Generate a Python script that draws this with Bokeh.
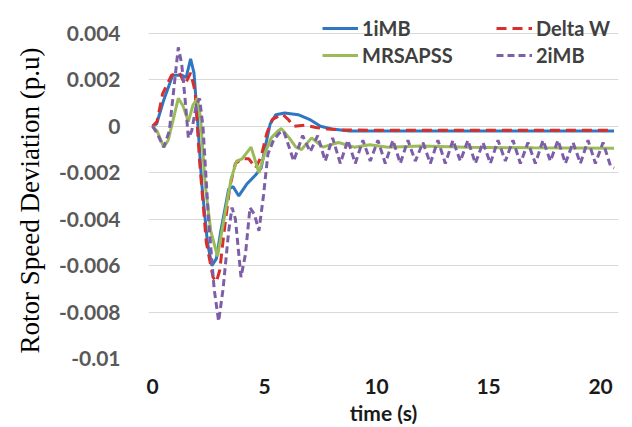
from bokeh.plotting import figure
from bokeh.models import Legend, LegendItem, FixedTicker, CustomJSTickFormatter, Range1d, Title
from bokeh.embed import file_html
from bokeh.resources import INLINE

# ---- data ----
t_1imb = [0, 0.18, 0.49, 0.9, 1.3, 1.5, 1.7, 1.85, 2.0, 2.2, 2.45, 2.65, 2.85, 3.05, 3.4, 3.6, 3.85, 4.2, 4.6, 4.85,
          5.05, 5.25, 5.5, 5.9, 6.5, 7.0, 7.5, 8.0, 8.8, 10, 15, 20.6]
v_1imb = [0, 0.0001, 0.0011, 0.0022, 0.0022, 0.0021, 0.0029, 0.0023, 0.0004, -0.0025, -0.0050, -0.0060, -0.0057,
          -0.0045, -0.0027, -0.0026, -0.0030, -0.0025, -0.0021, -0.0018, -0.0008, 0.0001, 0.0005, 0.00057, 0.0005,
          0.0003, 0.0, -0.00012, -0.0002, -0.0002, -0.0002, -0.0002]

t_deltaw = [0, 0.2, 0.45, 0.85, 1.2, 1.45, 1.7, 1.9, 2.1, 2.4, 2.7, 2.85, 3.0, 3.2, 3.45, 3.7, 4.0, 4.3, 4.6, 4.85,
            5.1, 5.35, 5.8, 6.05, 6.3, 6.8, 7.3, 7.8, 8.5, 10, 15, 20.6]
v_deltaw = [0, 0.0002, 0.0014, 0.0022, 0.0023, 0.0018, 0.0023, 0.0015, -0.0015, -0.0050, -0.0065, -0.0067, -0.0062,
            -0.0045, -0.0026, -0.0016, -0.0014, -0.0014, -0.0018, -0.0013, -0.0003, 0.0003, 0.00052, 0.0003, 0.0,
            0.00005, -0.00005, -0.00012, -0.00016, -0.00017, -0.00017, -0.00017]

t_mrsapss = [0, 0.2, 0.5, 0.7, 1.0, 1.15, 1.35, 1.6, 1.8, 2.0, 2.15, 2.35, 2.6, 2.9, 3.1, 3.5, 3.75, 4.0, 4.4, 4.75,
             5.0, 5.3, 5.6, 5.75, 6.1, 6.4, 6.65, 7.1, 7.6, 8.3, 9.0, 9.7, 10.5, 12, 14, 17, 20.6]
v_mrsapss = [0, -0.0002, -0.0009, -0.0006, 0.0006, 0.0012, 0.0009, 0.0002, 0.0009, 0.0012, 0.0003, -0.0025, -0.0045,
             -0.0056, -0.0045, -0.0023, -0.0015, -0.0014, -0.0009, -0.0020, -0.0012, -0.0005, -0.0002, -0.0001,
             -0.0005, -0.0009, -0.0010, -0.0005, -0.0009, -0.0007, -0.0009, -0.0008, -0.0009, -0.00085, -0.0009,
             -0.00093, -0.00095]

t_2imb = [0, 0.2, 0.5, 0.75, 0.95, 1.15, 1.3, 1.45, 1.6, 1.75, 1.95, 2.1, 2.25, 2.5, 2.75, 2.95, 3.15, 3.4, 3.55,
          3.7, 3.95, 4.15, 4.35, 4.55, 4.75, 4.95, 5.15, 5.4, 5.65, 5.85, 6.1, 6.3,
          6.70, 7.04, 7.37, 7.71, 8.04, 8.38, 8.72, 9.05, 9.39, 9.72, 10.06, 10.39, 10.73, 11.06, 11.40, 11.73,
          12.07, 12.40, 12.74, 13.07, 13.41, 13.74, 14.08, 14.41, 14.75, 15.08, 15.42, 15.75, 16.09, 16.42,
          16.76, 17.09, 17.43, 17.76, 18.10, 18.43, 18.77, 19.10, 19.44, 19.77, 20.11, 20.44, 20.6]
v_2imb = [0, -0.0003, -0.0009, -0.0002, 0.0016, 0.0034, 0.0027, 0.0012, -0.0005, -0.0002, 0.0009, 0.0012, 0.0,
          -0.0040, -0.0070, -0.0084, -0.0070, -0.0045, -0.0035, -0.0040, -0.0065, -0.0055, -0.0035, -0.0038,
          -0.0045, -0.0030, -0.0012, -0.0006, -0.0003, -0.0002, -0.0009, -0.0015,
          -0.0004, -0.0011, -0.0004, -0.0015, -0.0005, -0.0016, -0.0006, -0.0016, -0.0006, -0.0015, -0.0006,
          -0.0016, -0.0006, -0.0016, -0.0006, -0.0015, -0.0007, -0.0016, -0.0006, -0.0016, -0.0006, -0.0015,
          -0.0006, -0.0016, -0.0007, -0.0016, -0.0006, -0.0015, -0.0006, -0.0016, -0.0007, -0.0016, -0.0006,
          -0.0015, -0.0006, -0.0016, -0.0007, -0.0016, -0.0006, -0.0016, -0.0007, -0.0017, -0.0018]

x_ticks = [0, 5, 10, 15, 20]
y_ticks = [-0.01, -0.008, -0.006, -0.004, -0.002, 0, 0.002, 0.004]

# ---- figure ----
# frame extends above the 0.004 gridline so that the legend (which overlaps it) is not clipped
p = figure(width=632, height=427, output_backend="svg", toolbar_location=None,
           x_range=Range1d(-0.18, 20.8), y_range=Range1d(-0.01, 0.004 + 20 / 23357),
           min_border_left=148, min_border_right=14, min_border_top=13, min_border_bottom=67)
p.outline_line_color = None
p.background_fill_color = "white"
p.border_fill_color = "white"

p.xgrid.visible = False
p.ygrid.grid_line_color = "#d9d9d9"
p.ygrid.grid_line_width = 1

p.xaxis.ticker = FixedTicker(ticks=x_ticks)
p.yaxis.ticker = FixedTicker(ticks=y_ticks)
p.yaxis.formatter = CustomJSTickFormatter(code="return String(Math.round(tick*1000)/1000);")

for ax in (p.xaxis[0], p.yaxis[0]):
    ax.axis_line_color = None
    ax.major_tick_line_color = None
    ax.minor_tick_line_color = None
    ax.major_label_text_font = "Lato"
    ax.major_label_text_font_style = "bold"
    ax.major_label_text_font_size = "21px"

p.yaxis.major_label_text_color = "#595959"
p.yaxis.major_label_standoff = 22

ytitle = Title(text="Rotor Speed Deviation (p.u)", align="left", offset=5, standoff=22,
               text_font="Liberation Serif", text_font_style="normal", text_font_size="27px",
               text_color="#000000")
p.add_layout(ytitle, "left")

p.xaxis.major_label_text_color = "#1a1a1a"
p.xaxis.major_label_standoff = 14
p.xaxis.axis_label = "time (s)"
p.xaxis.axis_label_text_font = "Lato"
p.xaxis.axis_label_text_font_style = "bold"
p.xaxis.axis_label_text_font_size = "21px"
p.xaxis.axis_label_text_color = "#1a1a1a"
p.xaxis.axis_label_standoff = 3

r1 = p.line(t_1imb, v_1imb, line_color="#2f77c2", line_width=3)
r2 = p.line(t_deltaw, v_deltaw, line_color="#d7302c", line_width=3, line_dash="10 6")
r3 = p.line(t_mrsapss, v_mrsapss, line_color="#9bbb59", line_width=3)
r4 = p.line(t_2imb, v_2imb, line_color="#7d5fa8", line_width=3, line_dash="7 4")

# one horizontal legend per row; label_width fixes the first column's width, spacing the gap
legend_style = dict(orientation="horizontal",
                    label_text_font="Lato", label_text_font_style="bold", label_text_font_size="20px",
                    label_text_color="#404040", glyph_width=36, glyph_height=24, label_height=24,
                    label_width=116, label_standoff=4, spacing=18, padding=0, margin=0,
                    background_fill_alpha=0, border_line_alpha=0)
legend_row1 = Legend(items=[LegendItem(label="1iMB", renderers=[r1]),
                            LegendItem(label="Delta W", renderers=[r2])],
                     location=(174, 318), **legend_style)
legend_row2 = Legend(items=[LegendItem(label="MRSAPSS", renderers=[r3]),
                            LegendItem(label="2iMB", renderers=[r4])],
                     location=(174, 291), **legend_style)
p.add_layout(legend_row1, "center")
p.add_layout(legend_row2, "center")

open("out.html", "w").write(file_html(p, INLINE))
